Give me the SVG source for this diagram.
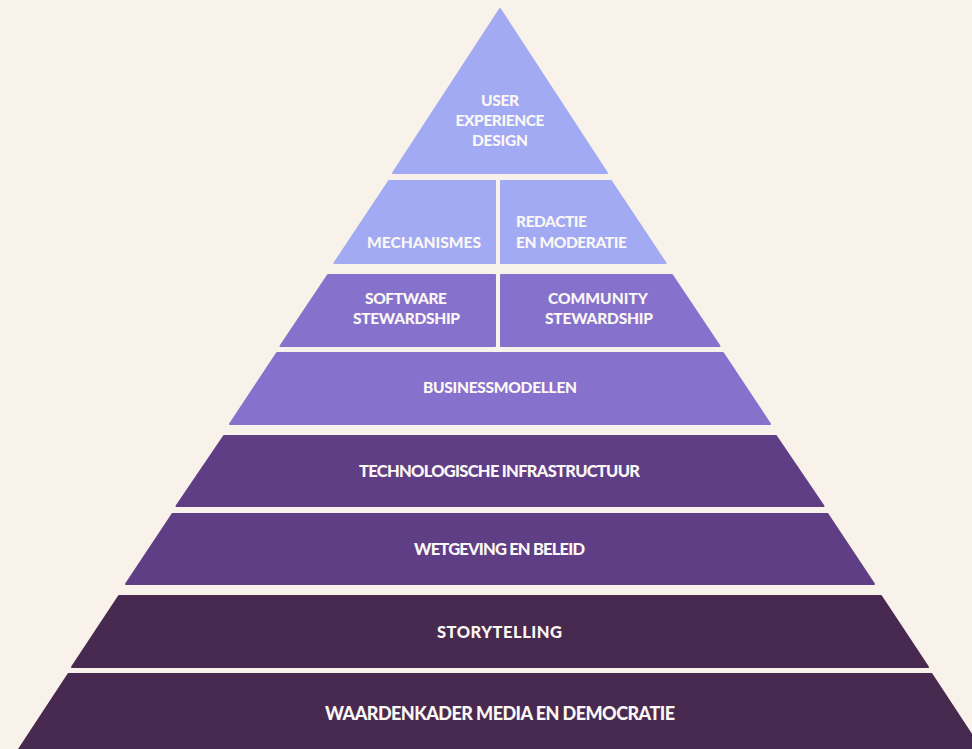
<svg xmlns="http://www.w3.org/2000/svg" width="972" height="749" viewBox="0 0 972 749">
  <style>
    .t1 { fill: #a1aaf3; stroke: #a1aaf3; }
    .t2 { fill: #8672cd; stroke: #8672cd; }
    .t3 { fill: #603e86; stroke: #603e86; }
    .t4 { fill: #48294f; stroke: #48294f; }
    polygon { stroke-width: 2; stroke-linejoin: round; }
    text { font-family: Lato, "Liberation Sans", sans-serif; font-weight: 900; fill: #fbf7f4; text-anchor: middle; }
    .s { font-size: 15.5px; }
    .m { font-size: 16.5px; }
    .l { font-size: 18px; }
    .start { text-anchor: start; }
  </style>
  <rect x="0" y="0" width="972" height="749" fill="#f9f2ea"/>

  <g id="user-experience-design">
    <polygon class="t1" points="500,9 607,173 393,173"/>
    <text class="s" x="500" y="106" textLength="38">USER</text>
    <text class="s" x="500" y="126" textLength="89">EXPERIENCE</text>
    <text class="s" x="500" y="146" textLength="56">DESIGN</text>
  </g>

  <g id="mechanismes">
    <polygon class="t1" points="389,181 495,181 495,263 334.5,263"/>
    <text class="s" x="424" y="248" textLength="114">MECHANISMES</text>
  </g>

  <g id="redactie-en-moderatie">
    <polygon class="t1" points="501,181 611,181 665.5,263 501,263"/>
    <text class="s start" x="516" y="227" textLength="71">REDACTIE</text>
    <text class="s start" x="516" y="248" textLength="111">EN MODERATIE</text>
  </g>

  <g id="software-stewardship">
    <polygon class="t2" points="328,275 495,275 495,346 280.5,346"/>
    <text class="s" x="406" y="304" textLength="82">SOFTWARE</text>
    <text class="s" x="406.5" y="324" textLength="107">STEWARDSHIP</text>
  </g>

  <g id="community-stewardship">
    <polygon class="t2" points="501,275 672,275 719.5,346 501,346"/>
    <text class="s" x="598" y="304" textLength="100">COMMUNITY</text>
    <text class="s" x="599" y="324" textLength="108">STEWARDSHIP</text>
  </g>

  <g id="businessmodellen">
    <polygon class="t2" points="277,353 723,353 770,424 230,424"/>
    <text class="s" x="500" y="393" textLength="154">BUSINESSMODELLEN</text>
  </g>

  <g id="technologische-infrastructuur">
    <polygon class="t3" points="224,436 776,436 823.5,506 176.5,506"/>
    <text class="m" x="499.5" y="477" textLength="281">TECHNOLOGISCHE INFRASTRUCTUUR</text>
  </g>

  <g id="wetgeving-en-beleid">
    <polygon class="t3" points="172.5,514 827.5,514 874,584 126,584"/>
    <text class="m" x="499.5" y="555" textLength="171">WETGEVING EN BELEID</text>
  </g>

  <g id="storytelling">
    <polygon class="t4" points="119,596 881,596 928,667 72,667"/>
    <text class="m" x="499.5" y="638" textLength="125">STORYTELLING</text>
  </g>

  <g id="waardenkader-media-en-democratie">
    <polygon class="t4" points="68.5,674 931.5,674 988,760 12,760"/>
    <text class="l" x="500" y="720" textLength="350">WAARDENKADER MEDIA EN DEMOCRATIE</text>
  </g>
</svg>
